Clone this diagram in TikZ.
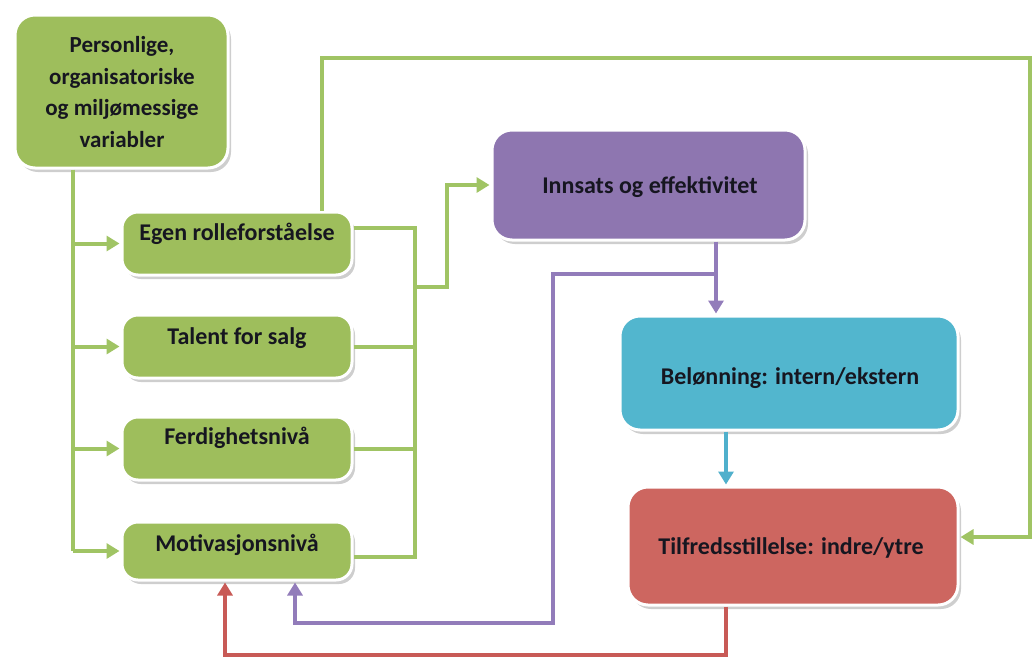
\documentclass[tikz,border=0pt]{standalone}
\usepackage{fontspec}
\setmainfont{Carlito}
\usetikzlibrary{arrows.meta,shadows}
\definecolor{gfill}{RGB}{158,190,92}
\definecolor{gline}{RGB}{160,196,100}
\definecolor{pfill}{RGB}{142,118,176}
\definecolor{pline}{RGB}{146,124,186}
\definecolor{cfill}{RGB}{82,182,206}
\definecolor{cline}{RGB}{80,176,204}
\definecolor{rfill}{RGB}{205,102,96}
\definecolor{rline}{RGB}{200,90,86}
\definecolor{txt}{RGB}{22,22,32}
\tikzset{
  box/.style={draw=white, line width=3pt, rounded corners=16pt, inner sep=0pt,
    drop shadow={shadow xshift=3pt, shadow yshift=-4pt, opacity=0.35, fill=black!55}},
  gbox/.style={box, fill=gfill},
  lbl/.style={font=\fontsize{24}{32}\selectfont\bfseries, text=txt, align=center, inner sep=0pt},
  conn/.style={line width=4pt},
  tip/.style={-{Triangle[length=13pt,width=15pt]}},
}
\begin{document}
\begin{tikzpicture}[x=1pt,y=-1pt]
\useasboundingbox (0,0) rectangle (1036,656);
% boxes
\node[gbox, minimum width=213pt, minimum height=153pt, rounded corners=20pt] (top) at (121.5,91.5) {};
\node[gbox, minimum width=230pt, minimum height=63pt] (egen) at (237,243.5) {};
\node[gbox, minimum width=230pt, minimum height=63pt] (talent) at (237,346.5) {};
\node[gbox, minimum width=230pt, minimum height=63pt] (ferdig) at (237,448.5) {};
\node[gbox, minimum width=230pt, minimum height=58pt] (motiv) at (237,551) {};
\node[box, fill=pfill, minimum width=313pt, minimum height=110pt, rounded corners=20pt] (innsats) at (648.5,185) {};
\node[box, fill=cfill, minimum width=338pt, minimum height=114pt, rounded corners=20pt] (belon) at (789,373) {};
\node[box, fill=rfill, minimum width=330pt, minimum height=118pt, rounded corners=20pt] (tilf) at (793,546) {};
% labels
\node[lbl, font=\fontsize{23}{31.5}\selectfont\bfseries] (ltop) at (122,92) {Personlige,\\organisatoriske\\og miljømessige\\variabler};
\node[lbl] (legen) at (237,234) {Egen rolleforståelse};
\node[lbl] (ltalent) at (237,338) {Talent for salg};
\node[lbl] (lferdig) at (237,438) {Ferdighetsnivå};
\node[lbl] (lmotiv) at (237,545) {Motivasjonsnivå};
\node[lbl] (linnsats) at (650,187) {Innsats og effektivitet};
\node[lbl] (lbelon) at (790,378) {Belønning: intern/ekstern};
\node[lbl] (ltilf) at (791,548) {Tilfredsstillelse: indre/ytre};
% helper coordinates
\coordinate (tx) at (73,0);
\coordinate (rx) at (415,0);
\coordinate (jn) at (415,287);
\coordinate (up) at (447,0);
\coordinate (lx) at (322,0);
\coordinate (topy) at (0,58);
\coordinate (fx) at (1030,0);
\coordinate (px) at (716,0);
\coordinate (pb) at (716,274);
\coordinate (pl) at (553,0);
\coordinate (pbot) at (0,623);
\coordinate (pm) at (295,0);
\coordinate (cx) at (726,0);
\coordinate (rbot) at (0,655);
\coordinate (rm) at (225,0);
\coordinate (egenE) at ([yshift=16pt]egen.east);
\coordinate (motivE) at ([yshift=-6pt]motiv.east);
\coordinate (tilfE) at ([xshift=1pt,yshift=9pt]tilf.east);
% green left trunk
\draw[conn, gline] (top.south -| tx) -- (tx |- motiv.west);
\foreach \n in {egen,talent,ferdig,motiv}
  \draw[conn, gline, tip] (tx |- \n.west) -- ([xshift=-1pt]\n.west);
% green right collector
\draw[conn, gline] (egenE) -- (rx |- egenE) -- (rx |- motivE) -- (motivE);
\draw[conn, gline] (talent.east) -- (rx |- talent.east);
\draw[conn, gline] (ferdig.east) -- (rx |- ferdig.east);
\draw[conn, gline, tip] (jn) -- (up |- jn) -- (up |- innsats.west) -- ([xshift=-1pt]innsats.west);
% green top loop
\draw[conn, gline, tip] (lx |- egen.north) -- (lx |- topy) -- (fx |- topy) -- (fx |- tilfE) -- (tilfE);
% purple
\draw[conn, pline, tip] (px |- innsats.south) -- ([yshift=1pt]px |- belon.north);
\draw[conn, pline, tip] (pb) -- (pl |- pb) -- (pl |- pbot) -- (pm |- pbot) -- ([yshift=-1pt]pm |- motiv.south);
% cyan
\draw[conn, cline, tip] (cx |- belon.south) -- ([yshift=1pt]cx |- tilf.north);
% red
\draw[conn, rline, tip] (cx |- tilf.south) -- (cx |- rbot) -- (rm |- rbot) -- ([yshift=-1pt]rm |- motiv.south);
\end{tikzpicture}
\end{document}
